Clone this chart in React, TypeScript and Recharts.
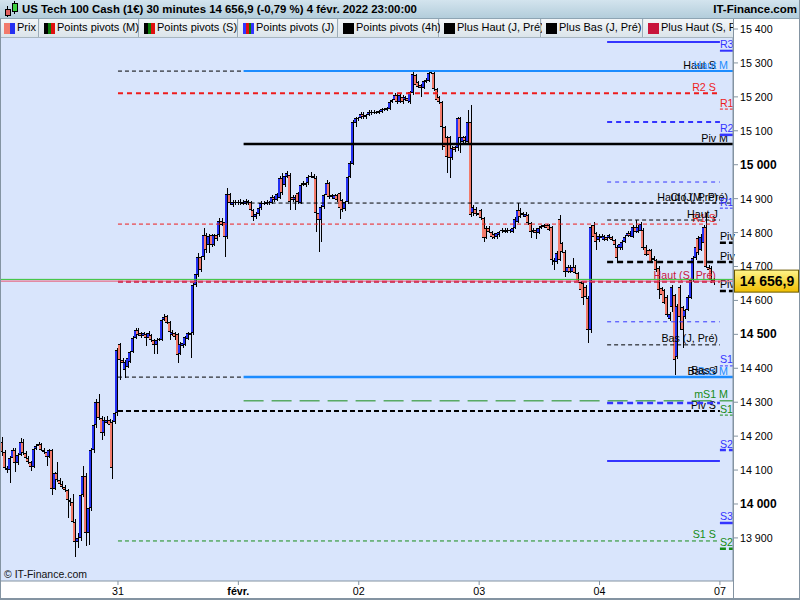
import { Bar, CartesianGrid, ComposedChart, ReferenceLine, XAxis, YAxis } from "recharts";

type Candle = [number, number, number, number]; // open, high, low, close

const jan28: Candle[] = [
  [14183, 14198, 14140, 14153], [14153, 14158, 14100, 14106], [14106, 14112, 14092, 14100], [14100, 14140, 14062, 14136],
  [14136, 14165, 14128, 14159], [14159, 14165, 14094, 14121], [14121, 14150, 14115, 14145], [14145, 14195, 14140, 14183],
  [14183, 14192, 14145, 14150], [14150, 14155, 14130, 14136], [14136, 14140, 14118, 14124], [14124, 14128, 14097, 14109],
  [14109, 14168, 14105, 14162], [14162, 14176, 14158, 14171], [14171, 14182, 14165, 14176], [14176, 14180, 14155, 14160],
  [14160, 14165, 14148, 14153], [14153, 14158, 14112, 14139], [14139, 14162, 14135, 14159], [14159, 14162, 14027, 14044],
  [14044, 14095, 14040, 14092], [14092, 14124, 14065, 14071], [14071, 14078, 14055, 14060], [14060, 14068, 14045, 14050],
  [14050, 14055, 14035, 14041], [14041, 14045, 13959, 14012], [14012, 14018, 13995, 14006], [14006, 14030, 13940, 13947],
  [13947, 13955, 13844, 13888], [13888, 13915, 13870, 13900], [13900, 14035, 13890, 14027], [14027, 14112, 14020, 14083],
  [14083, 14090, 13876, 13915], [13915, 13995, 13880, 13988], [13988, 14165, 13980, 14159], [14159, 14240, 14150, 14233],
  [14233, 14310, 14225, 14301], [14301, 14324, 14248, 14254], [14254, 14260, 14189, 14209], [14209, 14255, 14200, 14248],
  [14240, 14260, 14235, 14248], [14248, 14250, 14228, 14233], [14242, 14248, 14074, 14106], [14242, 14283, 14235, 14268],
  [14268, 14460, 14260, 14454],
];

const jan31: Candle[] = [
  [14472, 14475, 14366, 14425], [14425, 14430, 14410, 14416], [14395, 14425, 14372, 14419], [14404, 14435, 14400, 14430],
  [14419, 14452, 14415, 14448], [14448, 14495, 14445, 14489], [14490, 14518, 14485, 14513], [14513, 14518, 14494, 14498],
  [14504, 14508, 14490, 14495], [14495, 14508, 14490, 14504], [14500, 14504, 14465, 14490], [14490, 14510, 14486, 14504],
  [14498, 14500, 14478, 14483], [14483, 14486, 14442, 14469], [14469, 14488, 14442, 14483], [14483, 14490, 14480, 14486],
  [14483, 14546, 14480, 14542], [14542, 14560, 14538, 14551], [14554, 14557, 14530, 14534], [14537, 14540, 14483, 14507],
  [14498, 14512, 14495, 14507], [14504, 14507, 14483, 14492], [14500, 14503, 14416, 14439], [14442, 14476, 14438, 14472],
  [14466, 14480, 14460, 14475], [14469, 14495, 14465, 14492], [14486, 14508, 14482, 14504], [14504, 14508, 14430, 14498],
  [14504, 14650, 14498, 14646], [14646, 14682, 14640, 14678], [14675, 14740, 14670, 14728], [14728, 14732, 14685, 14690],
  [14728, 14814, 14720, 14793], [14793, 14798, 14740, 14749], [14763, 14795, 14740, 14790], [14793, 14797, 14758, 14763],
  [14763, 14797, 14760, 14793], [14793, 14797, 14776, 14780], [14793, 14843, 14788, 14834], [14834, 14843, 14818, 14822],
  [14831, 14840, 14728, 14787], [14787, 14931, 14780, 14914], [14914, 14918, 14880, 14887], [14881, 14895, 14875, 14890],
  [14887, 14895, 14880, 14890], [14890, 14897, 14882, 14887],
];

const feb01: Candle[] = [
  [14887, 14899, 14882, 14890], [14890, 14895, 14880, 14884], [14884, 14899, 14880, 14893], [14893, 14897, 14882, 14887],
  [14890, 14893, 14862, 14867], [14867, 14870, 14834, 14846], [14846, 14860, 14840, 14855], [14855, 14875, 14850, 14872],
  [14872, 14892, 14868, 14887], [14887, 14892, 14880, 14884], [14884, 14895, 14880, 14890], [14890, 14894, 14882, 14887],
  [14887, 14910, 14884, 14905], [14905, 14908, 14890, 14896], [14896, 14918, 14892, 14914], [14902, 14966, 14898, 14961],
  [14961, 14976, 14912, 14917], [14940, 14972, 14935, 14967], [14964, 14982, 14960, 14976], [14970, 14975, 14867, 14890],
  [14905, 14910, 14890, 14896], [14896, 14910, 14867, 14905], [14917, 14920, 14885, 14890], [14887, 14945, 14884, 14940],
  [14940, 14952, 14936, 14946], [14940, 14950, 14935, 14946], [14946, 14970, 14940, 14964], [14964, 14979, 14960, 14967],
  [14967, 14972, 14955, 14961], [14961, 14966, 14802, 14858], [14858, 14862, 14743, 14837], [14837, 14880, 14772, 14875],
  [14875, 14915, 14870, 14911], [14911, 14955, 14905, 14946], [14946, 14950, 14900, 14905], [14911, 14915, 14900, 14905],
  [14900, 14915, 14896, 14911], [14911, 14914, 14890, 14896], [14917, 14920, 14840, 14872], [14896, 14900, 14860, 14867],
  [14870, 14894, 14865, 14890], [14890, 14968, 14885, 14964], [14964, 15010, 14960, 15005], [15002, 15132, 14998, 15126],
  [15123, 15142, 15111, 15138], [15138, 15142, 15130, 15135],
];

const feb02: Candle[] = [
  [15138, 15155, 15134, 15150], [15150, 15155, 15135, 15140], [15140, 15150, 15136, 15147], [15147, 15160, 15144, 15155],
  [15155, 15160, 15148, 15152], [15152, 15160, 15149, 15155], [15155, 15159, 15150, 15153], [15153, 15161, 15150, 15157],
  [15155, 15168, 15152, 15164], [15164, 15167, 15157, 15160], [15160, 15170, 15157, 15166], [15164, 15188, 15160, 15185],
  [15185, 15195, 15182, 15191], [15191, 15210, 15188, 15205], [15205, 15210, 15180, 15185], [15185, 15210, 15182, 15205],
  [15200, 15205, 15180, 15185], [15190, 15204, 15187, 15200], [15196, 15200, 15183, 15188], [15185, 15218, 15180, 15214],
  [15211, 15273, 15205, 15267], [15264, 15268, 15230, 15235], [15244, 15248, 15225, 15229], [15235, 15238, 15200, 15226],
  [15226, 15250, 15222, 15247], [15244, 15255, 15240, 15250], [15247, 15275, 15243, 15270], [15270, 15276, 15266, 15273],
  [15270, 15274, 15218, 15223], [15223, 15226, 15186, 15191], [15200, 15203, 15180, 15185], [15185, 15188, 15043, 15111],
  [15111, 15115, 15040, 15052], [15082, 15086, 14976, 15023], [15082, 15085, 14961, 15020], [15020, 15055, 15015, 15049],
  [15052, 15055, 15038, 15043], [15049, 15140, 15040, 15138], [15138, 15142, 15035, 15079], [15067, 15085, 15062, 15082],
  [15082, 15085, 15065, 15070], [15067, 15161, 15062, 15126], [15126, 15175, 14845, 14852], [14858, 14880, 14850, 14875],
  [14870, 14875, 14850, 14855], [14858, 14862, 14845, 14852],
];

const feb03: Candle[] = [
  [14867, 14870, 14837, 14843], [14843, 14846, 14772, 14784], [14814, 14818, 14780, 14784], [14814, 14818, 14798, 14802],
  [14802, 14806, 14782, 14787], [14796, 14800, 14780, 14784], [14787, 14803, 14782, 14799], [14793, 14806, 14788, 14802],
  [14808, 14812, 14800, 14805], [14808, 14812, 14798, 14802], [14808, 14812, 14798, 14802], [14808, 14810, 14800, 14805],
  [14802, 14818, 14798, 14814], [14814, 14845, 14810, 14840], [14831, 14887, 14828, 14867], [14867, 14872, 14842, 14846],
  [14858, 14862, 14846, 14852], [14846, 14860, 14842, 14855], [14852, 14856, 14822, 14828], [14828, 14832, 14784, 14802],
  [14802, 14812, 14798, 14808], [14808, 14812, 14780, 14799], [14799, 14818, 14795, 14814], [14814, 14823, 14810, 14819],
  [14817, 14825, 14814, 14822], [14822, 14825, 14810, 14814], [14822, 14826, 14804, 14808], [14817, 14820, 14705, 14719],
  [14719, 14724, 14690, 14713], [14713, 14745, 14708, 14740], [14840, 14852, 14715, 14719], [14769, 14772, 14740, 14743],
  [14743, 14748, 14670, 14684], [14684, 14703, 14680, 14699], [14699, 14703, 14680, 14684], [14684, 14725, 14680, 14699],
  [14699, 14703, 14677, 14681], [14681, 14685, 14650, 14654], [14654, 14658, 14625, 14630], [14651, 14655, 14587, 14607],
  [14640, 14645, 14590, 14610], [14607, 14612, 14475, 14513], [14513, 14822, 14505, 14817],
];

const feb04: Candle[] = [
  [14822, 14831, 14780, 14787], [14799, 14803, 14750, 14772], [14778, 14795, 14772, 14790], [14790, 14795, 14778, 14784],
  [14778, 14794, 14774, 14790], [14787, 14790, 14774, 14778], [14784, 14797, 14780, 14793], [14787, 14790, 14774, 14778],
  [14778, 14782, 14758, 14763], [14758, 14762, 14710, 14725], [14755, 14772, 14750, 14767], [14755, 14777, 14750, 14772],
  [14772, 14792, 14768, 14787], [14790, 14805, 14786, 14800], [14800, 14806, 14786, 14790], [14787, 14822, 14783, 14817],
  [14817, 14837, 14798, 14802], [14802, 14822, 14798, 14817], [14805, 14830, 14800, 14825], [14808, 14812, 14750, 14755],
  [14758, 14762, 14730, 14734], [14749, 14752, 14728, 14734], [14749, 14752, 14710, 14713], [14725, 14730, 14705, 14719],
  [14719, 14722, 14685, 14690], [14696, 14700, 14605, 14631], [14637, 14640, 14610, 14616], [14631, 14635, 14588, 14593],
  [14610, 14615, 14550, 14557], [14545, 14565, 14540, 14560], [14581, 14645, 14565, 14640], [14616, 14620, 14380, 14425],
  [14433, 14590, 14428, 14584], [14640, 14645, 14513, 14551], [14581, 14585, 14460, 14513], [14551, 14575, 14545, 14572],
  [14572, 14615, 14568, 14610], [14607, 14665, 14603, 14660], [14660, 14730, 14655, 14725], [14725, 14763, 14720, 14758],
  [14784, 14790, 14735, 14740], [14749, 14795, 14745, 14787], [14769, 14822, 14765, 14817], [14817, 14858, 14695, 14699],
  [14699, 14705, 14685, 14690], [14696, 14700, 14650, 14660], [14660, 14665, 14646, 14656.9],
];

const lastPrice = 14656.9;
const prevPrice = 14662;

const dayTicks = [46, 92, 138, 184, 230, 276];
const dayLabels = ["31", "févr.", "02", "03", "04", "07"];
const priceTicks = [13900, 14000, 14100, 14200, 14300, 14400, 14500, 14600, 14700, 14800, 14900, 15000, 15100, 15200, 15300, 15400];

type Level = { id: string; label: string; price: number };

const monthLevels: Level[] = [
  { id: "hautM", label: "Haut M", price: 15276 },
  { id: "pivM", label: "Piv M", price: 15061 },
  { id: "cloM", label: "Clo (M, Pré)", price: 14887 },
  { id: "basM", label: "Bas M", price: 14374 },
  { id: "ms1M", label: "mS1 M", price: 14304 },
];
const weekLevels: Level[] = [
  { id: "hautS", label: "Haut S", price: 15276 },
  { id: "r2S", label: "R2 S", price: 15211 },
  { id: "r1S", label: "R1 S", price: 14825 },
  { id: "hautSPre", label: "Haut (S, Pré)", price: 14655 },
  { id: "basS", label: "Bas S", price: 14374 },
  { id: "pivS", label: "Piv S", price: 14274 },
  { id: "s1S", label: "S1 S", price: 13891 },
];
const dayLevels: Level[] = [
  { id: "r3J", label: "", price: 15362 },
  { id: "r2J", label: "", price: 15126 },
  { id: "r1J", label: "", price: 14949 },
  { id: "hautJPre", label: "Haut (J, Pré)", price: 14887 },
  { id: "hautJ", label: "Haut J", price: 14837 },
  { id: "pivJ", label: "", price: 14713 },
  { id: "s1J", label: "", price: 14537 },
  { id: "basJPre", label: "Bas (J, Pré)", price: 14469 },
  { id: "basJ", label: "Bas J", price: 14377 },
  { id: "s2J", label: "", price: 14298 },
  { id: "s3J", label: "", price: 14127 },
];
const nextLevels: Level[] = [
  { id: "r3N", label: "R3", price: 15336 },
  { id: "r1rN", label: "R1", price: 15164 },
  { id: "r2N", label: "R2", price: 15088 },
  { id: "r1N", label: "R1", price: 14872 },
  { id: "pivN", label: "Piv", price: 14770 },
  { id: "pivJN", label: "Piv", price: 14713 },
  { id: "piv4N", label: "Piv", price: 14628 },
  { id: "s1N", label: "S1", price: 14407 },
  { id: "s1gN", label: "S1", price: 14262 },
  { id: "s2N", label: "S2", price: 14159 },
  { id: "s3N", label: "S3", price: 13944 },
  { id: "s2gN", label: "S2", price: 13868 },
];

const legendItems = [
  "Prix", "Points pivots (M)", "Points pivots (S)", "Points pivots (J)",
  "Points pivots (4h)", "Plus Haut (J, Pré)", "Plus Bas (J, Pré)", "Plus Haut (S, Pré)",
];

// ---- layout / styles ----
const FONT = "'Liberation Sans', Arial, sans-serif";
const X_DOMAIN: [number, number] = [1.3, 281];
const Y_DOMAIN: [number, number] = [13773, 15373.5];
const SPAN = { month: [94, 281], week: [46, 276], day: [232.9, 276], next: [276, 281] };
const UP = "#2430f2";
const DOWN = "#f27a6a";
const BLUE = "#3434ff";
const RED = "#ee1c1c";
const GREEN = "#168c16";
const SKY = "#1c8cff";
const CRIMSON = "#c8143c";

type LineStyle = { stroke: string; w: number; dash?: string; text?: string };
const lineStyle: Record<string, LineStyle> = {
  hautM: { stroke: SKY, w: 2 },
  pivM: { stroke: "#000", w: 2.5 },
  cloM: { stroke: "#000", w: 1, dash: "4 3" },
  basM: { stroke: SKY, w: 2.5 },
  ms1M: { stroke: GREEN, w: 1, dash: "20 8" },
  hautS: { stroke: "#000", w: 1, dash: "4 3" },
  r2S: { stroke: RED, w: 2, dash: "5 4" },
  r1S: { stroke: RED, w: 1, dash: "4 3" },
  hautSPre: { stroke: CRIMSON, w: 2, dash: "5 3" },
  basS: { stroke: "#000", w: 1, dash: "4 3" },
  pivS: { stroke: "#000", w: 2, dash: "5 3" },
  s1S: { stroke: GREEN, w: 1, dash: "4 3" },
  r3J: { stroke: BLUE, w: 2 },
  r2J: { stroke: BLUE, w: 2, dash: "5 4" },
  r1J: { stroke: BLUE, w: 1, dash: "4 4" },
  hautJPre: { stroke: "#000", w: 1, dash: "4 3" },
  hautJ: { stroke: "#000", w: 1, dash: "4 3" },
  pivJ: { stroke: "#000", w: 2.5, dash: "6 4" },
  s1J: { stroke: BLUE, w: 1, dash: "4 4" },
  basJPre: { stroke: "#000", w: 1, dash: "4 3" },
  basJ: { stroke: "none", w: 1, text: "#000" },
  s2J: { stroke: BLUE, w: 2.5, dash: "6 4" },
  s3J: { stroke: BLUE, w: 2 },
  r3N: { stroke: BLUE, w: 2 },
  r1rN: { stroke: RED, w: 1, dash: "3 2" },
  r2N: { stroke: BLUE, w: 2.5 },
  r1N: { stroke: BLUE, w: 1, dash: "3 2" },
  pivN: { stroke: "#000", w: 2.5, dash: "6 3" },
  pivJN: { stroke: "#000", w: 2.5, dash: "6 3" },
  piv4N: { stroke: "#000", w: 2.5, dash: "6 3" },
  s1N: { stroke: BLUE, w: 1, dash: "3 2" },
  s1gN: { stroke: GREEN, w: 1, dash: "3 2" },
  s2N: { stroke: BLUE, w: 2.5, dash: "6 3" },
  s3N: { stroke: BLUE, w: 2.5 },
  s2gN: { stroke: GREEN, w: 2.5, dash: "6 3" },
};

const legendIcons: string[][] = [
  [DOWN, UP], ["#000", "#0a7a0a", "#e01010"], ["#000", "#0a7a0a", "#e01010"], [BLUE, "#e01010", "#0a7a0a", BLUE],
  ["#000"], ["#000"], ["#000"], [CRIMSON],
];

const candles = [jan28, jan31, feb01, feb02, feb03, feb04].flat().map((c, i) => ({
  x: i + 1.5,
  open: c[0],
  high: c[1],
  low: c[2],
  close: c[3],
  range: [c[2], c[1]],
}));

const fmtPrice = (v: number) => {
  const [int, dec] = v.toFixed(1).split(".");
  const s = `${int.slice(0, -3)} ${int.slice(-3)}`;
  return dec === "0" ? s : `${s},${dec}`;
};

function CandleShape(props: any) {
  const { x, y, width, height, payload } = props;
  if (!payload || height == null) return null;
  const { open, high, low, close } = payload;
  const span = high - low || 1;
  const toY = (v: number) => y + ((high - v) / span) * height;
  const cx = Math.round(x + width / 2);
  const top = Math.round(toY(Math.max(open, close)));
  const bot = Math.round(toY(Math.min(open, close)));
  return (
    <g shapeRendering="crispEdges">
      <rect x={cx - 1} y={top} width={2} height={Math.max(1, bot - top)} fill={close >= open ? UP : DOWN} />
      <line x1={cx + 1.5} x2={cx + 1.5} y1={y} y2={y + height} stroke="#000" />
      <line x1={cx - 1} x2={cx + 2} y1={top + 0.5} y2={top + 0.5} stroke="#000" />
      <line x1={cx - 1} x2={cx + 2} y1={Math.max(top + 1, bot) - 0.5} y2={Math.max(top + 1, bot) - 0.5} stroke="#000" />
    </g>
  );
}

function LevelLabel({ viewBox, text, color, align, dx }: any) {
  if (!viewBox) return null;
  const x = align === "end" ? viewBox.x + viewBox.width + dx : viewBox.x + dx;
  return (
    <text x={x} y={viewBox.y - 2.5} textAnchor={align} fill={color} fontSize={10.7} fontFamily={FONT}>
      {text}
    </text>
  );
}

function PriceTag({ viewBox }: any) {
  if (!viewBox) return null;
  const x = viewBox.x + viewBox.width + 1;
  const y = viewBox.y;
  return (
    <g>
      <defs>
        <linearGradient id="tagGrad" x1="0" y1="0" x2="0" y2="1">
          <stop offset="0" stopColor="#fff48a" />
          <stop offset="1" stopColor="#f0be00" />
        </linearGradient>
      </defs>
      <rect x={x + 0.5} y={y - 11} width={64} height={22} fill="url(#tagGrad)" stroke="#6b5a00" />
      <text x={x + 33} y={y + 5} textAnchor="middle" fontSize={14} fontWeight="bold" fontFamily={FONT} fill="#000">
        {fmtPrice(lastPrice)}
      </text>
    </g>
  );
}

function DayTick({ x, y, payload }: any) {
  const label = dayLabels[dayTicks.indexOf(payload.value)];
  return (
    <text x={x} y={y + 8} textAnchor="middle" fontSize={10.7} fontFamily={FONT} fill="#000"
      fontWeight={label === "févr." ? "bold" : "normal"}>
      {label}
    </text>
  );
}

function PriceTick({ x, y, payload }: any) {
  const bold = payload.value % 500 === 0;
  return (
    <text x={x} y={y + 4} fontSize={bold ? 12 : 10.7} fontWeight={bold ? "bold" : "normal"} fontFamily={FONT} fill="#000">
      {fmtPrice(payload.value)}
    </text>
  );
}

const renderLevels = (levels: Level[], span: number[], align: "start" | "end", dx: number) =>
  levels.map((lv) => {
    const st = lineStyle[lv.id];
    return (
      <ReferenceLine
        key={lv.id}
        segment={[{ x: span[0], y: lv.price }, { x: span[1], y: lv.price }]}
        stroke={st.stroke}
        strokeWidth={st.w}
        strokeDasharray={st.dash}
        label={lv.label ? <LevelLabel text={lv.label} color={st.text ?? st.stroke} align={align} dx={dx} /> : undefined}
      />
    );
  });

export default function App() {
  return (
    <div style={{ position: "absolute", left: 0, top: 0, width: 800, height: 600, background: "#fff", fontFamily: FONT, overflow: "hidden" }}>
      <ComposedChart width={800} height={600} data={candles} margin={{ top: 38, right: 0, bottom: 0, left: 1 }}>
        <CartesianGrid fill="#d9e5fc" horizontal={false} vertical={false} />
        <XAxis type="number" dataKey="x" domain={X_DOMAIN} allowDataOverflow ticks={dayTicks} interval={0}
          height={19} tickSize={4} tickMargin={2} stroke="#8494a2" tick={<DayTick />} />
        <YAxis orientation="right" domain={Y_DOMAIN} allowDataOverflow ticks={priceTicks} interval={0}
          width={67} tickSize={5} tickMargin={2} stroke="#8494a2" tick={<PriceTick />} />
        {renderLevels(weekLevels, SPAN.week, "end", -4)}
        {renderLevels(monthLevels, SPAN.month, "end", -5)}
        {renderLevels(dayLevels, SPAN.day, "end", -2)}
        {renderLevels(nextLevels, SPAN.next, "start", 0)}
        <Bar dataKey="range" barSize={2} isAnimationActive={false} shape={<CandleShape />} />
        <ReferenceLine y={prevPrice} stroke="#33c233" strokeWidth={1} />
        <ReferenceLine y={lastPrice} stroke="#e8506a" strokeWidth={1} label={<PriceTag />} />
      </ComposedChart>

      {/* title bar */}
      <div style={{ position: "absolute", left: 0, top: 0, width: 800, height: 19, boxSizing: "border-box",
        background: "linear-gradient(#d3e4ee, #b3cddb)", borderBottom: "1px solid #8ea4b3" }}>
        <svg width={18} height={18} style={{ position: "absolute", left: 2, top: 0 }}>
          <line x1={5.5} x2={5.5} y1={6} y2={17} stroke="#000" />
          <rect x={3.5} y={9.5} width={5} height={6} fill="#e06060" stroke="#000" />
          <line x1={12.5} x2={12.5} y1={1} y2={14} stroke="#000" />
          <rect x={10.5} y={3.5} width={5} height={8} fill="#40d040" stroke="#000" />
        </svg>
        <span style={{ position: "absolute", left: 22, top: 3, fontSize: 11.4, fontWeight: "bold", whiteSpace: "nowrap" }}>
          US Tech 100 Cash (1€) 30 minutes 14 656,9 (-0,79 %) 4 févr. 2022 23:00:00
        </span>
        <span style={{ position: "absolute", right: 3, top: 3, fontSize: 11.5, fontWeight: "bold" }}>IT-Finance.com</span>
      </div>

      {/* legend row */}
      <div style={{ position: "absolute", left: 0, top: 19, width: 733, height: 19, overflow: "hidden",
        background: "#e4ebf0", borderBottom: "1px solid #a8b6c0", boxSizing: "border-box" }}>
        {legendItems.map((item, i) => {
          const lefts = [0, 40, 140, 239, 339, 440, 542, 644];
          const w = (lefts[i + 1] ?? 760) - lefts[i] - 1;
          return (
            <div key={item} style={{ position: "absolute", left: lefts[i], top: 0, width: w, height: 18,
              background: "linear-gradient(#f3f6f8, #dbe4ea)", borderRight: "1px solid #9cacb8", boxSizing: "border-box" }}>
              <div style={{ position: "absolute", left: 4, top: 4, width: 11, height: 11, display: "flex" }}>
                {legendIcons[i].map((c, k) => <div key={k} style={{ flex: 1, background: c }} />)}
              </div>
              <span style={{ position: "absolute", left: 17, top: 2, fontSize: 11, whiteSpace: "nowrap" }}>{item}</span>
            </div>
          );
        })}
      </div>

      {/* frame */}
      <div style={{ position: "absolute", left: 0, top: 19, width: 1, height: 581, background: "#8494a2" }} />
      <div style={{ position: "absolute", left: 733, top: 19, width: 1, height: 581, background: "#8494a2" }} />
      <div style={{ position: "absolute", left: 799, top: 0, width: 1, height: 600, background: "#8494a2" }} />
      <div style={{ position: "absolute", left: 0, top: 598, width: 800, height: 2, background: "#8494a2" }} />
      <div style={{ position: "absolute", left: 4, top: 568, fontSize: 10.5, color: "#111" }}>© IT-Finance.com</div>
    </div>
  );
}
